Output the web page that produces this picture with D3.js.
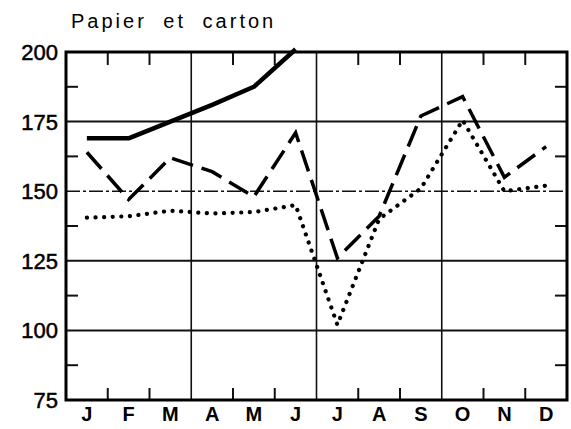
<!DOCTYPE html>
<html>
<head>
<meta charset="utf-8">
<script src="https://cdn.jsdelivr.net/npm/d3@7"></script>
<style>
    body { margin: 0; background: #fff; }
    svg { display: block; }
</style>
</head>
<body>
<div id="chart"></div>
<script>
// Chart values
var title = "Papier et carton";
var months = ["J", "F", "M", "A", "M", "J", "J", "A", "S", "O", "N", "D"];
var solidSeries = [169, 169, 175, 181, 187.5, 201];
var dashedSeries = [164, 147, 162, 157, 148, 171, 126, 141, 177, 184, 155, 166];
var dottedSeries = [140.5, 141, 143, 142, 142.5, 145, 102, 140, 151, 175.5, 150, 152];
var yTicks = [75, 100, 125, 150, 175, 200];
var yMinorTicks = [87.5, 112.5, 137.5, 162.5, 187.5];
var quarterBounds = [3, 6, 9];

var width = 571, height = 429;
// note: "top" is a reserved window property, so use plot* names
var plotLeft = 66, plotRight = 567, plotTop = 52, plotBottom = 400;

var svg = d3.select("#chart")
    .append("svg")
    .attr("width", width)
    .attr("height", height);

var x = d3.scaleBand()
    .domain(d3.range(months.length))
    .range([plotLeft, plotRight])
    .padding(0);

var xEdge = d3.scaleLinear()
    .domain([0, months.length])
    .range([plotLeft, plotRight]);

var y = d3.scaleLinear()
    .domain([75, 200])
    .range([plotBottom, plotTop]);

// title
svg.append("text")
    .attr("x", 71)
    .attr("y", 28)
    .style("font-family", "Liberation Sans, Arial, sans-serif")
    .style("font-size", "20px")
    .style("letter-spacing", "3px")
    .style("word-spacing", "8px")
    .text(title);

// horizontal grid lines
svg.append("g")
    .selectAll("line")
    .data(yTicks.slice(1, -1))
    .enter()
    .append("line")
    .attr("x1", plotLeft)
    .attr("x2", plotRight)
    .attr("y1", function(d) { return y(d); })
    .attr("y2", function(d) { return y(d); })
    .attr("stroke", "#111")
    .attr("stroke-width", function(d) { return d == 150 ? 1.5 : 2; })
    .attr("stroke-dasharray", function(d) { return d == 150 ? "14 3 3 3" : null; });

// quarter separators
svg.append("g")
    .selectAll("line")
    .data(quarterBounds)
    .enter()
    .append("line")
    .attr("x1", function(d) { return xEdge(d); })
    .attr("x2", function(d) { return xEdge(d); })
    .attr("y1", plotTop)
    .attr("y2", plotBottom)
    .attr("stroke", "#111")
    .attr("stroke-width", 1.6);

// month ticks on top and bottom
var monthTicks = d3.range(1, months.length).filter(function(i) {
    return quarterBounds.indexOf(i) < 0;
});
var tickGroup = svg.append("g")
    .attr("stroke", "#111")
    .attr("stroke-width", 2);

tickGroup.selectAll(".topTick")
    .data(monthTicks)
    .enter()
    .append("line")
    .attr("x1", function(d) { return xEdge(d); })
    .attr("x2", function(d) { return xEdge(d); })
    .attr("y1", plotTop)
    .attr("y2", plotTop + 13);

tickGroup.selectAll(".bottomTick")
    .data(monthTicks)
    .enter()
    .append("line")
    .attr("x1", function(d) { return xEdge(d); })
    .attr("x2", function(d) { return xEdge(d); })
    .attr("y1", plotBottom)
    .attr("y2", plotBottom - 12);

// minor ticks on left and right
tickGroup.selectAll(".leftTick")
    .data(yMinorTicks)
    .enter()
    .append("line")
    .attr("x1", plotLeft)
    .attr("x2", plotLeft + 12)
    .attr("y1", function(d) { return y(d); })
    .attr("y2", function(d) { return y(d); });

tickGroup.selectAll(".rightTick")
    .data(yMinorTicks)
    .enter()
    .append("line")
    .attr("x1", plotRight)
    .attr("x2", plotRight - 12)
    .attr("y1", function(d) { return y(d); })
    .attr("y2", function(d) { return y(d); });

// frame
svg.append("rect")
    .attr("x", plotLeft)
    .attr("y", plotTop)
    .attr("width", plotRight - plotLeft)
    .attr("height", plotBottom - plotTop)
    .attr("fill", "none")
    .attr("stroke", "#000")
    .attr("stroke-width", 3);

// y labels
svg.append("g")
    .selectAll("text")
    .data(yTicks)
    .enter()
    .append("text")
    .attr("x", plotLeft - 8)
    .attr("y", function(d) { return y(d) + 8; })
    .attr("text-anchor", "end")
    .style("font-family", "Liberation Sans, Arial, sans-serif")
    .style("font-size", "22px")
    .style("stroke", "#000")
    .style("stroke-width", "0.5px")
    .text(function(d) { return d; });

// month labels
svg.append("g")
    .selectAll("text")
    .data(months)
    .enter()
    .append("text")
    .attr("x", function(d, i) { return x(i) + x.bandwidth() / 2; })
    .attr("y", 421)
    .attr("text-anchor", "middle")
    .style("font-family", "Liberation Sans, Arial, sans-serif")
    .style("font-size", "20px")
    .style("font-weight", "bold")
    .text(function(d) { return d; });

// series lines
var line = d3.line()
    .x(function(d, i) { return x(i) + x.bandwidth() / 2; })
    .y(function(d) { return y(d); });

svg.append("path")
    .datum(dottedSeries)
    .attr("d", line)
    .attr("fill", "none")
    .attr("stroke", "#000")
    .attr("stroke-width", 4.2)
    .attr("stroke-linecap", "round")
    .attr("stroke-dasharray", "0.1 8.5");

svg.append("path")
    .datum(dashedSeries)
    .attr("d", line)
    .attr("fill", "none")
    .attr("stroke", "#000")
    .attr("stroke-width", 3.5)
    .attr("stroke-dasharray", "22 9");

svg.append("path")
    .datum(solidSeries)
    .attr("d", line)
    .attr("fill", "none")
    .attr("stroke", "#000")
    .attr("stroke-width", 4.5)
    .attr("stroke-linejoin", "round");
</script>
</body>
</html>
